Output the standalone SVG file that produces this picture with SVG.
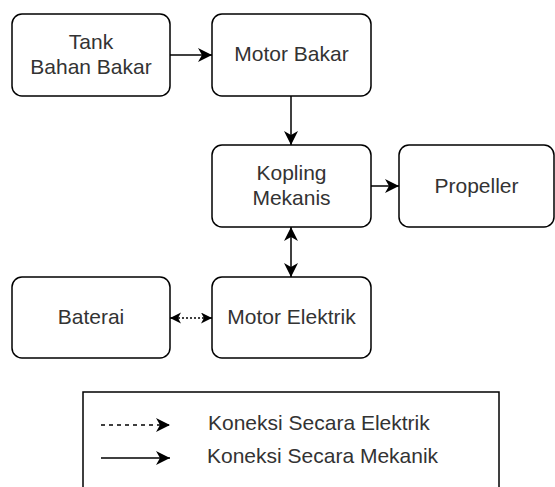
<svg xmlns="http://www.w3.org/2000/svg" width="555" height="487" viewBox="0 0 555 487">
<style>
.box{fill:#fff;stroke:#000;stroke-width:1.5}
.t{font-family:"Liberation Sans",Arial,sans-serif;font-size:21px;fill:#333;text-anchor:middle}
.lt{font-family:"Liberation Sans",Arial,sans-serif;font-size:21px;fill:#333}
.c{fill:none;stroke:#000;stroke-width:1.5}
</style>
<defs>
<marker id="ah" markerUnits="userSpaceOnUse" markerWidth="16" markerHeight="14" refX="14" refY="7" orient="auto-start-reverse">
<path d="M0,0 L14,7 L0,14 L4,7 z" fill="#000"/>
</marker>
<marker id="ahs" markerUnits="userSpaceOnUse" markerWidth="12" markerHeight="12" refX="11" refY="5.5" orient="auto-start-reverse">
<path d="M0,0 L11,5.5 L0,11 L3,5.5 z" fill="#000"/>
</marker>
</defs>
<rect width="555" height="487" fill="#fff"/>
<g id="tank"><rect class="box" x="12" y="14" width="158" height="82" rx="10"/><text class="t" x="91" y="49">Tank</text><text class="t" x="91" y="74">Bahan Bakar</text></g>
<g id="motor-bakar"><rect class="box" x="212" y="14" width="159" height="82" rx="10"/><text class="t" x="291.5" y="61">Motor Bakar</text></g>
<g id="kopling"><rect class="box" x="212" y="145" width="159" height="82" rx="10"/><text class="t" x="291.5" y="180">Kopling</text><text class="t" x="291.5" y="205">Mekanis</text></g>
<g id="propeller"><rect class="box" x="399" y="145" width="155" height="82" rx="10"/><text class="t" x="476.5" y="193">Propeller</text></g>
<g id="baterai"><rect class="box" x="12" y="277" width="158" height="81" rx="10"/><text class="t" x="91" y="324">Baterai</text></g>
<g id="motor-elektrik"><rect class="box" x="212" y="277" width="159" height="81" rx="10"/><text class="t" x="291.5" y="324">Motor Elektrik</text></g>
<g id="connectors">
<line class="c" x1="170" y1="55" x2="212" y2="55" marker-end="url(#ah)"/>
<line class="c" x1="291" y1="96" x2="291" y2="145" marker-end="url(#ah)"/>
<line class="c" x1="371" y1="186" x2="399" y2="186" marker-end="url(#ah)"/>
<line class="c" x1="291" y1="227" x2="291" y2="277" marker-start="url(#ah)" marker-end="url(#ah)"/>
<line class="c" x1="170" y1="318" x2="212" y2="318" stroke-dasharray="2,2" marker-start="url(#ahs)" marker-end="url(#ahs)"/>
</g>
<g id="legend">
<rect class="box" x="83" y="392" width="416" height="110"/>
<line class="c" x1="101" y1="425" x2="170" y2="425" stroke-dasharray="4,4" marker-end="url(#ah)"/>
<line class="c" x1="101" y1="458" x2="170" y2="458" marker-end="url(#ah)"/>
<text class="lt" x="208" y="430">Koneksi Secara Elektrik</text>
<text class="lt" x="207" y="463">Koneksi Secara Mekanik</text>
</g>
</svg>
